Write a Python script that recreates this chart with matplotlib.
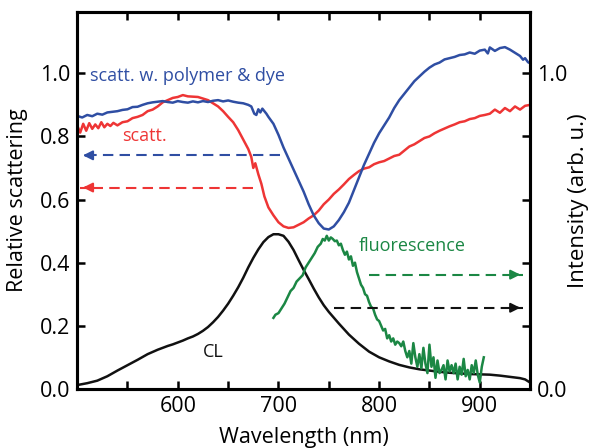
import numpy as np
import matplotlib.pyplot as plt

plt.rcParams['font.family'] = ['Open Sans', 'DejaVu Sans']

# scatt. w. polymer & dye (blue)
wl_dye = [500, 505, 510, 515, 520, 525, 530, 535, 540, 545, 550, 555, 560, 565, 570, 575, 580, 585, 590, 595,
          600, 605, 610, 615, 620, 625, 630, 635, 640, 645, 650, 655, 660, 665, 670, 673, 676, 678, 680, 682,
          684, 686, 688, 690, 695, 700, 705, 710, 715, 720, 725, 730, 735, 740, 745, 750, 755, 760, 765, 770,
          775, 780, 785, 790, 795, 800, 805, 810, 815, 820, 825, 830, 835, 840, 845, 850, 855, 860, 865, 870,
          875, 880, 885, 890, 895, 900, 905, 908, 910, 915, 920, 925, 930, 935, 940, 943, 945, 948, 950]
sc_dye = [0.865, 0.860, 0.868, 0.864, 0.872, 0.869, 0.876, 0.878, 0.880, 0.884, 0.886, 0.893, 0.894, 0.900, 0.905, 0.908, 0.910, 0.912, 0.909, 0.907,
          0.912, 0.909, 0.907, 0.911, 0.908, 0.912, 0.909, 0.913, 0.915, 0.911, 0.914, 0.910, 0.907, 0.905, 0.900, 0.895, 0.872, 0.868, 0.886, 0.876,
          0.888, 0.880, 0.872, 0.862, 0.840, 0.805, 0.765, 0.730, 0.695, 0.660, 0.625, 0.585, 0.550, 0.525, 0.508, 0.505, 0.515, 0.535, 0.560, 0.590,
          0.630, 0.670, 0.710, 0.745, 0.780, 0.810, 0.835, 0.860, 0.890, 0.915, 0.935, 0.955, 0.975, 0.990, 1.005, 1.018, 1.028, 1.034, 1.044, 1.048,
          1.052, 1.058, 1.060, 1.066, 1.062, 1.072, 1.075, 1.063, 1.082, 1.071, 1.080, 1.083, 1.075, 1.065, 1.055, 1.043, 1.048, 1.035, 1.032]

# scatt. (red)
wl_sc = [500, 503, 506, 509, 512, 515, 518, 521, 524, 527, 530, 533, 536, 540, 545, 550, 555, 560, 565, 570,
         575, 580, 585, 590, 595, 600, 605, 610, 615, 620, 625, 630, 635, 640, 645, 650, 655, 660, 665, 670,
         673, 675, 677, 680, 683, 686, 690, 695, 700, 705, 710, 715, 720, 725, 730, 735, 740, 745, 750, 755,
         760, 765, 770, 775, 780, 785, 790, 795, 800, 805, 810, 815, 820, 825, 830, 835, 840, 845, 850, 855,
         860, 865, 870, 875, 880, 885, 890, 895, 900, 905, 910, 915, 920, 925, 930, 935, 940, 945, 950]
sc = [0.835, 0.812, 0.840, 0.818, 0.842, 0.824, 0.838, 0.826, 0.845, 0.829, 0.840, 0.833, 0.843, 0.835, 0.845, 0.848, 0.858, 0.862, 0.868, 0.880,
      0.885, 0.895, 0.908, 0.915, 0.922, 0.925, 0.931, 0.927, 0.926, 0.925, 0.920, 0.915, 0.905, 0.895, 0.880, 0.862, 0.845, 0.820, 0.790, 0.760,
      0.735, 0.700, 0.715, 0.680, 0.650, 0.610, 0.575, 0.550, 0.528, 0.515, 0.510, 0.512, 0.520, 0.528, 0.540, 0.550, 0.565, 0.585, 0.600, 0.618,
      0.632, 0.648, 0.665, 0.678, 0.690, 0.698, 0.702, 0.712, 0.718, 0.722, 0.730, 0.738, 0.742, 0.755, 0.768, 0.775, 0.785, 0.795, 0.800, 0.810,
      0.818, 0.825, 0.832, 0.838, 0.845, 0.848, 0.855, 0.858, 0.865, 0.868, 0.872, 0.885, 0.875, 0.890, 0.880, 0.895, 0.885, 0.897, 0.900]

# CL (black)
wl_cl = [500, 510, 520, 530, 540, 550, 560, 570, 580, 585, 590, 595, 600, 605, 610, 615, 620, 625, 630, 635,
         640, 645, 650, 655, 660, 665, 670, 675, 680, 685, 690, 695, 700, 705, 710, 715, 720, 725, 730, 735,
         740, 745, 750, 760, 770, 780, 790, 800, 810, 820, 830, 840, 850, 860, 870, 880, 890, 900, 910, 920,
         930, 940, 945, 950]
cl = [0.012, 0.018, 0.026, 0.040, 0.058, 0.075, 0.092, 0.110, 0.124, 0.130, 0.136, 0.141, 0.147, 0.153, 0.160, 0.166, 0.174, 0.184, 0.196, 0.211,
      0.228, 0.248, 0.270, 0.295, 0.322, 0.352, 0.385, 0.415, 0.442, 0.465, 0.481, 0.490, 0.490, 0.485, 0.466, 0.440, 0.408, 0.377, 0.348, 0.318,
      0.290, 0.265, 0.244, 0.207, 0.172, 0.143, 0.118, 0.100, 0.087, 0.076, 0.068, 0.062, 0.058, 0.054, 0.051, 0.049, 0.047, 0.046, 0.045, 0.042,
      0.038, 0.034, 0.030, 0.020]

# fluorescence (green)
wl_fl = [695, 697, 700, 703, 706, 709, 712, 715, 718, 721, 724, 727, 730, 733, 736, 739, 742, 744, 746, 748,
         750, 752, 754, 756, 758, 760, 762, 764, 766, 768, 770, 772, 774, 776, 778, 780, 782, 784, 786, 788,
         790, 792, 794, 796, 798, 800, 802, 804, 806, 808, 810, 812, 814, 816, 818, 820, 822, 824, 826, 828,
         830, 832, 834, 836, 838, 840, 842, 844, 846, 848, 850, 852, 854, 856, 858, 860, 862, 864, 866, 868,
         870, 872, 874, 876, 878, 880, 882, 884, 886, 888, 890, 892, 894, 896, 898, 900, 902, 904]
fl = [0.225, 0.235, 0.240, 0.255, 0.270, 0.290, 0.310, 0.320, 0.340, 0.350, 0.360, 0.385, 0.400, 0.415, 0.430, 0.450, 0.460, 0.475, 0.470, 0.485,
      0.470, 0.480, 0.475, 0.468, 0.470, 0.455, 0.460, 0.440, 0.425, 0.435, 0.410, 0.420, 0.390, 0.400, 0.370, 0.350, 0.330, 0.320, 0.300, 0.295,
      0.275, 0.260, 0.255, 0.235, 0.220, 0.215, 0.200, 0.185, 0.190, 0.160, 0.170, 0.150, 0.160, 0.140, 0.150, 0.145, 0.135, 0.150, 0.120, 0.100,
      0.120, 0.080, 0.145, 0.100, 0.070, 0.110, 0.065, 0.130, 0.080, 0.050, 0.140, 0.070, 0.100, 0.035, 0.090, 0.050, 0.060, 0.075, 0.030, 0.090,
      0.055, 0.075, 0.050, 0.080, 0.030, 0.070, 0.045, 0.095, 0.040, 0.060, 0.030, 0.075, 0.050, 0.090, 0.045, 0.020, 0.070, 0.100]

c_blue = '#2f4ea3'
c_red = '#ee3535'
c_green = '#1b8744'
c_black = '#111111'

fig = plt.figure(figsize=(5.89, 4.48), dpi=100)
ax = fig.add_axes([0.131, 0.132, 0.769, 0.841])

ax.plot(wl_cl, cl, color=c_black, lw=1.8)
ax.plot(wl_sc, sc, color=c_red, lw=1.8)
ax.plot(wl_dye, sc_dye, color=c_blue, lw=1.8)
ax.plot(wl_fl, fl, color=c_green, lw=1.8)

ax.set_xlim(500, 950)
ax.set_ylim(0, 1.194)
ax.set_xticks([600, 700, 800, 900])
ax.set_xticks([550, 650, 750, 850], minor=True)
ax.set_yticks([0.0, 0.2, 0.4, 0.6, 0.8, 1.0])
ax.set_yticklabels(['0.0', '0.2', '0.4', '0.6', '0.8', '1.0'])
ax.tick_params(which='both', direction='in', length=6, width=1.8, labelsize=15.5, top=True, pad=5)
for s in ax.spines.values():
    s.set_linewidth(2.2)

ax2 = ax.twinx()
ax2.set_ylim(0, 1.194)
ax2.set_yticks([0.0, 0.2, 0.4, 0.6, 0.8, 1.0])
ax2.set_yticklabels(['0.0', '', '', '', '', '1.0'])
ax2.tick_params(direction='in', length=6, width=1.8, labelsize=15.5, pad=5)
for s in ax2.spines.values():
    s.set_linewidth(2.2)

ax.set_xlabel('Wavelength (nm)', fontsize=15.5)
ax.xaxis.set_label_coords(0.5, -0.1)
ax.set_ylabel('Relative scattering', fontsize=15.5)
ax.yaxis.set_label_coords(-0.108, 0.5)
ax2.set_ylabel('Intensity (arb. u.)', fontsize=16)
ax2.yaxis.set_label_coords(1.084, 0.5)

# dashed arrows
def dashed_arrow(x0, x1, y, col):
    ax.plot([x0, x1], [y, y], color=col, lw=1.5, ls=(0, (5, 3)))
    d = 10 if x1 > x0 else -10
    ax.annotate('', xy=(x1, y), xytext=(x1 - d, y),
                arrowprops=dict(arrowstyle='-|>', color=col, lw=1.5, mutation_scale=14))

dashed_arrow(702, 503, 0.74, c_blue)
dashed_arrow(675, 503, 0.638, c_red)
dashed_arrow(790, 943, 0.362, c_green)
dashed_arrow(755, 943, 0.257, c_black)

ax.text(513, 0.99, 'scatt. w. polymer & dye', color=c_blue, fontsize=13, va='center')
ax.text(545, 0.80, 'scatt.', color=c_red, fontsize=13, va='center')
ax.text(625, 0.117, 'CL', color=c_black, fontsize=13, va='center')
ax.text(780, 0.454, 'fluorescence', color=c_green, fontsize=13, va='center')

fig.savefig('out.png', dpi=100)
